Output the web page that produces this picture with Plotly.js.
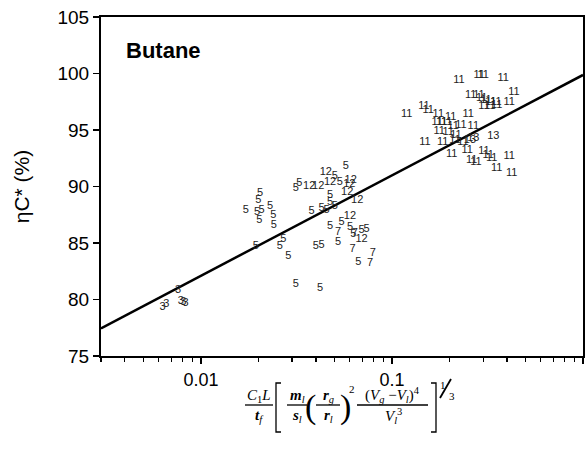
<!DOCTYPE html>
<html>
<head>
<meta charset="utf-8">
<script src="https://cdn.plot.ly/plotly-3.0.1.min.js"></script>
<style>html,body{margin:0;padding:0;background:#fff;}</style>
</head>
<body>
<div id="chart" style="width:587px;height:468px;"></div>
<script>
// ---- data ----
const x3 = [0.0076, 0.00786, 0.00808, 0.00832, 0.0063, 0.0066];
const y3 = [80.84, 79.81, 79.75, 79.66, 79.31, 79.60];

const x5 = [0.0574, 0.0503, 0.0534, 0.0327, 0.0314, 0.0474, 0.0474, 0.0380, 0.0428, 0.0455,
            0.0503, 0.0204, 0.0200, 0.0172, 0.0197, 0.0208, 0.0230, 0.0239, 0.0241, 0.0202,
            0.0545, 0.0474, 0.0603, 0.0694, 0.0737, 0.0627, 0.0523, 0.0666, 0.0194, 0.0270,
            0.0259, 0.0287, 0.0400, 0.0428, 0.0314, 0.0420];
const y5 = [91.81, 90.87, 90.42, 90.28, 89.84, 89.25, 88.65, 87.77, 88.07, 87.92,
            88.27, 89.40, 88.81, 87.86, 87.68, 87.92, 88.21, 87.48, 86.59, 87.04,
            86.88, 86.44, 86.39, 86.09, 86.21, 85.80, 85.03, 83.26, 84.67, 85.33,
            84.67, 83.85, 84.67, 84.82, 81.35, 80.99];

const x7 = [0.0523, 0.0640, 0.0622, 0.0793, 0.0767];
const y7 = [85.91, 85.90, 84.44, 84.09, 83.20];

const x11 = [0.2243, 0.2865, 0.3006, 0.3825, 0.4352, 0.2582, 0.2855, 0.2948, 0.3105, 0.3286,
             0.3504, 0.4113, 0.3031, 0.3258, 0.3534, 0.1194, 0.1471, 0.1549, 0.1748, 0.2030,
             0.2508, 0.1727, 0.1820, 0.1933, 0.2298, 0.2094, 0.2666, 0.1768, 0.1971, 0.2163,
             0.1489, 0.1842, 0.2137, 0.2353, 0.2054, 0.2478, 0.3031, 0.3193, 0.4113, 0.2614,
             0.2753, 0.3327, 0.3534, 0.4233];
const y11 = [99.42, 99.87, 99.87, 99.58, 98.34, 98.04, 98.10, 97.81, 97.59, 97.50,
             97.42, 97.45, 97.06, 97.06, 97.21, 96.39, 97.06, 96.71, 96.42, 96.12,
             96.42, 95.73, 95.73, 95.68, 95.44, 95.29, 95.29, 94.85, 94.76, 94.56,
             93.96, 93.96, 94.12, 93.94, 92.85, 93.23, 93.08, 92.79, 92.64, 92.35,
             92.19, 92.50, 91.61, 91.17];

const x12 = [0.0451, 0.0474, 0.0608, 0.0598, 0.0369, 0.0411, 0.0583, 0.0658, 0.0603, 0.0694];
const y12 = [91.22, 90.42, 90.58, 90.19, 90.04, 90.04, 89.45, 88.74, 87.33, 85.33];

const x13 = [0.2561, 0.2666, 0.3392];
const y13 = [94.05, 94.29, 94.41];

const fitX = [0.003, 1];
const fitY = [77.45, 99.87];

const xTickVals = [0.01, 0.1, 1];
const xTickText = ["0.01", "0.1", "1"];
const yTickVals = [75, 80, 85, 90, 95, 100, 105];

// ---- traces ----
const labelFont = {family: "Liberation Sans, Arial, sans-serif", size: 11, color: "#222"};
function labelTrace(xs, ys, lab) {
  return {
    type: "scatter", mode: "text", x: xs, y: ys,
    text: xs.map(() => lab), textposition: "middle center",
    textfont: labelFont, hoverinfo: "skip", showlegend: false, cliponaxis: false
  };
}
const traces = [
  {type: "scatter", mode: "lines", x: fitX, y: fitY,
   line: {color: "#000", width: 2.5}, showlegend: false, hoverinfo: "skip"},
  labelTrace(x3, y3, "3"),
  labelTrace(x5, y5, "5"),
  labelTrace(x7, y7, "7"),
  labelTrace(x11, y11, "11"),
  labelTrace(x12, y12, "12"),
  labelTrace(x13, y13, "13")
];

// ---- formula (x-axis title) built from annotations and shapes ----
const L = 101, R = 583, T = 17, B = 356;
const px = v => (v - L) / (R - L);
const py = v => (B - v) / (B - T);
const serif = "Liberation Serif, Times New Roman, serif";
function ann(text, x, y, size, extra) {
  return Object.assign({
    text: text, x: px(x), y: py(y), xref: "paper", yref: "paper",
    xanchor: "center", yanchor: "middle", showarrow: false,
    font: {family: serif, size: size, color: "#000"}
  }, extra || {});
}
function hline(x0, x1, y, w) {
  return {type: "line", xref: "paper", yref: "paper",
          x0: px(x0), x1: px(x1), y0: py(y), y1: py(y),
          line: {color: "#000", width: w || 1.3}};
}
function pathShape(pts, w) {
  const d = pts.map((p, i) => (i ? "L" : "M") + px(p[0]) + "," + py(p[1])).join(" ");
  return {type: "path", xref: "paper", yref: "paper", path: d,
          line: {color: "#000", width: w || 1.3}};
}

const fs = 15;
const annotations = [
  {text: "<b>Butane</b>", x: px(124), y: py(50), xref: "paper", yref: "paper",
   xanchor: "left", yanchor: "middle", showarrow: false,
   font: {family: "Liberation Sans, Arial, sans-serif", size: 22, color: "#000"}},
  ann("<i>C</i><sub>1</sub><i>L</i>", 259, 396, fs),
  ann("<b><i>t</i></b><sub><i>f</i></sub>", 259, 416, fs),
  ann("<b><i>m</i></b><sub><i>l</i></sub>", 297, 396, fs),
  ann("<b><i>s</i></b><sub><i>l</i></sub>", 297, 416, fs),
  ann("(", 310, 407, 34),
  ann("<b><i>r</i></b><sub><i>g</i></sub>", 328, 396, fs),
  ann("<b><i>r</i></b><sub><i>l</i></sub>", 328, 416, fs),
  ann(")", 345, 407, 34),
  ann("2", 352, 389, 11),
  ann("(<i>V</i><sub><i>g</i></sub> \u2212<i>V</i><sub><i>l</i></sub>)<sup>4</sup>", 392, 395, fs),
  ann("<i>V</i><sub><i>l</i></sub><sup>3</sup>", 393, 416, fs),
  ann("1", 443, 385, 11),
  ann("3", 452, 396, 11)
];
const shapes = [
  hline(245, 273, 405),
  hline(287, 307, 405),
  hline(316, 340, 405),
  hline(357, 428, 405),
  pathShape([[281, 383], [276, 383], [276, 432], [281, 432]], 1.3),
  pathShape([[431, 383], [436, 383], [436, 432], [431, 432]], 1.3),
  pathShape([[440, 398], [451, 379]], 1.8)
];

const layout = {
  width: 587, height: 468,
  margin: {l: L, r: 587 - R, t: T, b: 468 - B, pad: 0},
  paper_bgcolor: "#fff", plot_bgcolor: "#fff",
  showlegend: false,
  font: {family: "Liberation Sans, Arial, sans-serif", color: "#000"},
  xaxis: {
    type: "log", range: [Math.log10(0.003), 0],
    tickvals: xTickVals, ticktext: xTickText,
    ticks: "outside", ticklen: 6, tickwidth: 1.5, tickcolor: "#000",
    minor: {ticks: "outside", ticklen: 4, tickwidth: 1.2, tickcolor: "#000", dtick: "D1", showgrid: false},
    showline: true, linecolor: "#000", linewidth: 2, mirror: true,
    showgrid: false, zeroline: false,
    tickfont: {size: 18, color: "#000"}
  },
  yaxis: {
    range: [75, 105], tickvals: yTickVals,
    ticks: "outside", ticklen: 6, tickwidth: 1.5, tickcolor: "#000",
    showline: true, linecolor: "#000", linewidth: 2, mirror: true,
    showgrid: false, zeroline: false,
    tickfont: {size: 19, color: "#000"},
    title: {text: "\u03b7C* (%)", font: {size: 21, color: "#000"}, standoff: 22}
  },
  annotations: annotations,
  shapes: shapes
};

Plotly.newPlot("chart", traces, layout, {displayModeBar: false, staticPlot: true});
</script>
</body>
</html>
